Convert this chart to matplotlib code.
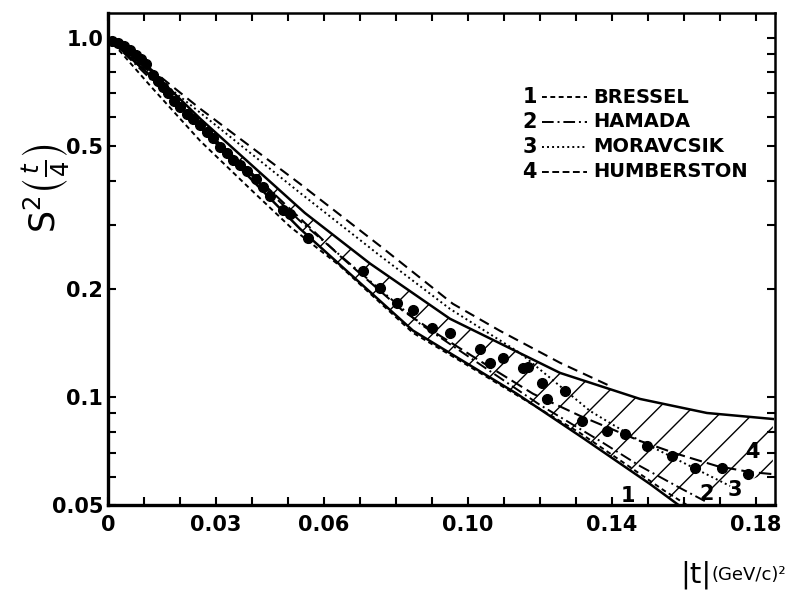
import matplotlib

matplotlib.use("Agg")
import matplotlib.pyplot as plt
from matplotlib.ticker import FixedLocator, NullFormatter

# measured points, |t| in (GeV/c)^2
t_data = [0.0011, 0.0028, 0.0044, 0.0061, 0.0078, 0.0092, 0.0106, 0.0125, 0.0139,
          0.0153, 0.0167, 0.0183, 0.0200, 0.0219, 0.0236, 0.0256, 0.0275, 0.0292,
          0.0311, 0.0331, 0.0347, 0.0367, 0.0386, 0.0411, 0.0431, 0.0450, 0.0486,
          0.0506, 0.0556, 0.0708, 0.0756, 0.0803, 0.0847, 0.0900, 0.0950, 0.1033,
          0.1061, 0.1097, 0.1153, 0.1167, 0.1206, 0.1219, 0.1269, 0.1317, 0.1386,
          0.1436, 0.1497, 0.1567, 0.1631, 0.1706, 0.1778]
s2_data = [0.981, 0.968, 0.950, 0.926, 0.897, 0.874, 0.846, 0.789, 0.759,
           0.730, 0.703, 0.668, 0.642, 0.614, 0.595, 0.572, 0.547, 0.526,
           0.497, 0.478, 0.457, 0.443, 0.426, 0.405, 0.385, 0.363, 0.332,
           0.323, 0.277, 0.224, 0.201, 0.182, 0.174, 0.156, 0.151, 0.136,
           0.124, 0.128, 0.120, 0.121, 0.109, 0.0987, 0.104, 0.0858, 0.0804,
           0.0788, 0.0730, 0.0685, 0.0634, 0.0634, 0.0610]

# envelope of the hatched band
upper_t = [0.0, 0.0047, 0.0256, 0.0361, 0.0547, 0.0728, 0.095, 0.1256, 0.1478, 0.1664, 0.1847]
upper_s = [1.0, 0.950, 0.595, 0.478, 0.325, 0.235, 0.165, 0.1166, 0.0987, 0.0902, 0.0868]
lower_t = [0.0, 0.0111, 0.0361, 0.0533, 0.0847, 0.1136, 0.1319, 0.1506, 0.1608]
lower_s = [1.0, 0.794, 0.440, 0.294, 0.153, 0.102, 0.0769, 0.0572, 0.0481]
hatch_top_t = [0.0361, 0.0547, 0.0728, 0.095, 0.1256, 0.1478, 0.1664, 0.1847]
hatch_top_s = [0.478, 0.325, 0.235, 0.165, 0.1166, 0.0987, 0.0902, 0.0868]
hatch_bot_t = [0.0361, 0.0533, 0.0847, 0.1136, 0.1319, 0.1506, 0.158, 0.1706, 0.1847]
hatch_bot_s = [0.440, 0.294, 0.153, 0.102, 0.0769, 0.0572, 0.050, 0.0547, 0.0622]

# theoretical curves
top_t = [0.0, 0.0117, 0.0256, 0.0533, 0.0756, 0.0958, 0.1089, 0.1256, 0.1394]
top_s = [1.0, 0.820, 0.634, 0.392, 0.263, 0.1816, 0.1527, 0.1244, 0.1073]
bressel_t = [0.0, 0.0117, 0.0256, 0.0394, 0.0506, 0.0644, 0.0847, 0.0978, 0.1144,
             0.1311, 0.145, 0.1547, 0.1617]
bressel_s = [1.0, 0.735, 0.516, 0.380, 0.2975, 0.2317, 0.1508, 0.126, 0.100,
             0.0794, 0.0638, 0.0547, 0.0494]
hamada_t = [0.0, 0.0117, 0.0256, 0.0533, 0.0867, 0.12, 0.1367, 0.1478, 0.1589, 0.1658]
hamada_s = [1.0, 0.769, 0.565, 0.309, 0.1597, 0.0950, 0.0754, 0.0642, 0.0558, 0.0513]
moravcsik_t = [0.0, 0.0117, 0.0256, 0.0533, 0.0756, 0.095, 0.1144, 0.1228, 0.1339,
               0.1478, 0.1617, 0.1728]
moravcsik_s = [1.0, 0.799, 0.618, 0.370, 0.247, 0.1758, 0.1326, 0.1130, 0.0914,
               0.0754, 0.0642, 0.0565]
humberston_t = [0.0, 0.0117, 0.0256, 0.0422, 0.0644, 0.0819, 0.0914, 0.1033, 0.1181,
                0.1311, 0.1478, 0.1581, 0.1692, 0.1783, 0.1844]
humberston_s = [1.0, 0.784, 0.569, 0.400, 0.247, 0.1737, 0.1498, 0.1260, 0.1020,
                0.0886, 0.0754, 0.0694, 0.0642, 0.0618, 0.0610]

x_ticks = [0.0, 0.01, 0.02, 0.03, 0.04, 0.05, 0.06, 0.07, 0.08, 0.09, 0.10,
           0.11, 0.12, 0.13, 0.14, 0.15, 0.16, 0.17, 0.18]
x_labels = ["0", "", "", "0.03", "", "", "0.06", "", "", "", "0.10",
            "", "", "", "0.14", "", "", "", "0.18"]
y_ticks = [1.0, 0.5, 0.2, 0.1, 0.05]
y_labels = ["1.0", "0.5", "0.2", "0.1", "0.05"]
y_minor = [0.06, 0.07, 0.08, 0.09, 0.3, 0.4, 0.6, 0.7, 0.8, 0.9]

legend_nums = ["1", "2", "3", "4"]
legend_names = ["BRESSEL", "HAMADA", "MORAVCSIK", "HUMBERSTON"]
legend_styles = [(0, (2.5, 1.8)), (0, (6, 2, 1, 2)), (0, (1, 1.6)), (0, (3.5, 1.8))]

plt.rcParams["font.family"] = ["DejaVu Sans"]
plt.rcParams["mathtext.fontset"] = "dejavusans"

fig = plt.figure(figsize=(7.86, 5.97), dpi=100)
ax = fig.add_axes([0.1374, 0.154, 0.8486, 0.8241])
ax.set_yscale("log")
ax.set_xlim(0, 0.1853)
ax.set_ylim(0.05, 1.17)

ax.fill(hatch_top_t + hatch_bot_t[::-1], hatch_top_s + hatch_bot_s[::-1],
        facecolor="none", edgecolor="black", hatch="/", linewidth=0)
ax.plot(upper_t, upper_s, color="black", lw=1.8)
ax.plot(lower_t, lower_s, color="black", lw=1.8)

ax.plot(top_t, top_s, color="black", lw=1.5, linestyle=(0, (5, 3)))
ax.plot(bressel_t, bressel_s, color="black", lw=1.4, linestyle=legend_styles[0])
ax.plot(hamada_t, hamada_s, color="black", lw=1.4, linestyle=legend_styles[1])
ax.plot(moravcsik_t, moravcsik_s, color="black", lw=1.4, linestyle=legend_styles[2])
ax.plot(humberston_t, humberston_s, color="black", lw=1.5, linestyle=(0, (6, 2.5)))

ax.plot(t_data, s2_data, "o", color="black", ms=7, mec="black")

ax.xaxis.set_major_locator(FixedLocator(x_ticks))
ax.set_xticklabels(x_labels)
ax.yaxis.set_major_locator(FixedLocator(y_ticks))
ax.set_yticklabels(y_labels)
ax.yaxis.set_minor_locator(FixedLocator(y_minor))
ax.yaxis.set_minor_formatter(NullFormatter())
ax.tick_params(which="both", direction="in", top=True, right=True,
               length=6, width=1.5, labelsize=15)
ax.tick_params(axis="x", pad=7)
for lab in ax.get_xticklabels() + ax.get_yticklabels():
    lab.set_fontweight("bold")
for side in ["left", "bottom"]:
    ax.spines[side].set_linewidth(2.4)
for side in ["top", "right"]:
    ax.spines[side].set_linewidth(1.8)

# curve labels
for num, xf, yf in zip(legend_nums, [0.780, 0.898, 0.940, 0.966], [0.018, 0.022, 0.030, 0.108]):
    ax.text(xf, yf, num, transform=ax.transAxes, fontsize=15, fontweight="bold",
            ha="center", va="center")

# legend
rows = [0.829, 0.779, 0.728, 0.677]
for num, name, style, yf in zip(legend_nums, legend_names, legend_styles, rows):
    ax.text(0.632, yf, num, transform=ax.transAxes, fontsize=15, fontweight="bold",
            ha="center", va="center")
    ax.plot([0.650, 0.718], [yf, yf], transform=ax.transAxes, color="black",
            lw=1.4, linestyle=style)
    ax.text(0.727, yf, name, transform=ax.transAxes, fontsize=14, fontweight="bold",
            ha="left", va="center")

fig.text(0.058, 0.685, r"$\mathrm{S}^2\left(\frac{t}{4}\right)$", rotation=90,
         fontsize=25, ha="center", va="center")
fig.text(0.866, 0.037, "|t|", fontsize=21, ha="left", va="center")
fig.text(0.905, 0.037, "(GeV/c)²", fontsize=13, ha="left", va="center")

fig.savefig("out.png", dpi=100)
